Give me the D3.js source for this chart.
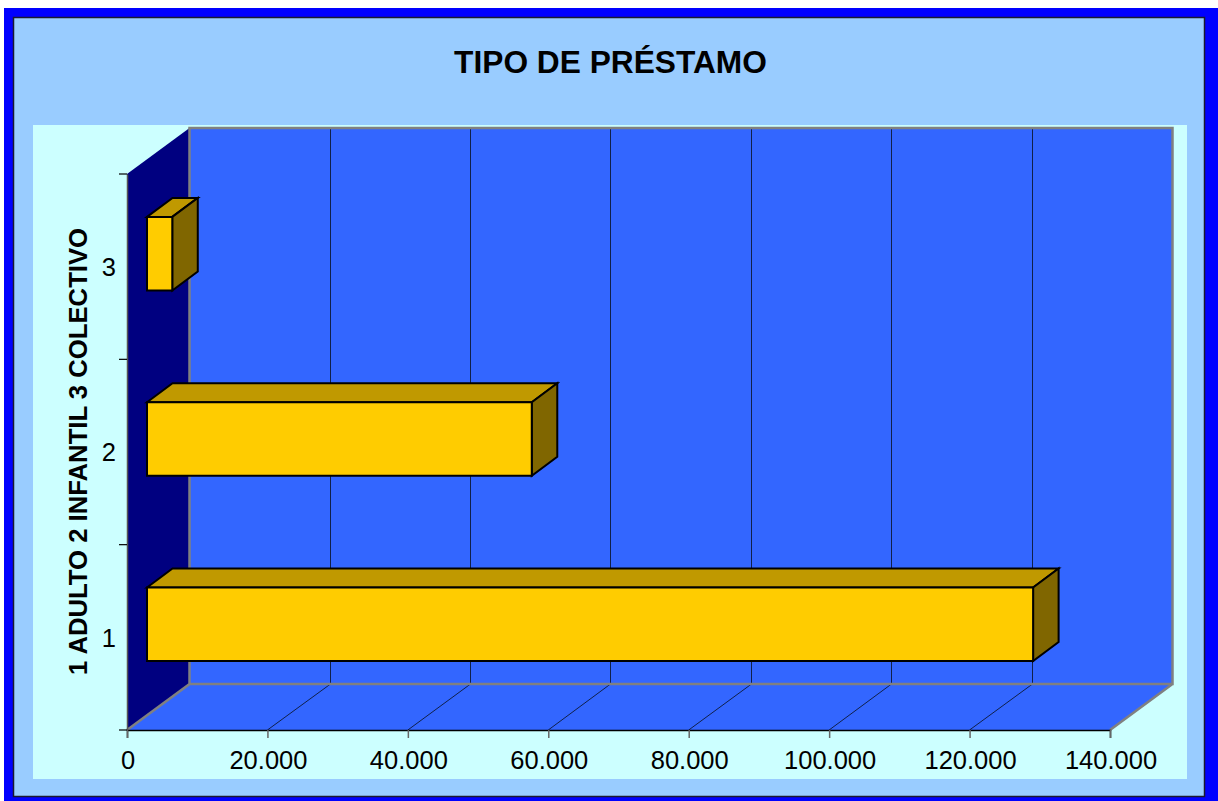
<!DOCTYPE html>
<html><head><meta charset="utf-8">
<script src="https://cdn.jsdelivr.net/npm/d3@7/dist/d3.min.js"></script>
<style>html,body{margin:0;padding:0;background:#fff;overflow:hidden}svg{display:block}text{font-family:"Liberation Sans",Arial,sans-serif;fill:#000}</style>
</head><body><div id="c"></div>
<script>
const titleText = "TIPO DE PRÉSTAMO";
const yTitleText = "1 ADULTO 2 INFANTIL 3 COLECTIVO";
const categories = ["1","2","3"];
const seriesValues = [126200, 54800, 3600];
const xTicks = [0,20000,40000,60000,80000,100000,120000,140000];

(function(){
const W=1218,H=801;
const svg=d3.select("#c").append("svg").attr("width",W).attr("height",H);
const fmt=d3.formatLocale({decimal:",",thousands:".",grouping:[3],currency:["",""]}).format(",");

// frame
svg.append("rect").attr("x",4).attr("y",8).attr("width",W-4).attr("height",H-8).attr("fill","#0000ff");
svg.append("rect").attr("x",13.5).attr("y",17.5).attr("width",1191).attr("height",779).attr("fill","#99ccff").attr("stroke","#1a1a2e").attr("stroke-width",1.5);
svg.append("rect").attr("x",33).attr("y",125).attr("width",1154).attr("height",654).attr("fill","#ccffff");

svg.append("text").attr("x",610.5).attr("y",73).attr("text-anchor","middle").attr("font-weight","bold").attr("font-size",31.7).text(titleText);

const x=d3.scaleLinear().domain([0,140000]).range([127,1110]);
const y=d3.scaleBand().domain(categories).range([730,174]);
const dx=62.5,dy=-46, yTop=174, yBot=730;
const poly=(pts,fill,stroke,sw)=>svg.append("polygon").attr("points",pts.map(p=>p.join(",")).join(" ")).attr("fill",fill).attr("stroke",stroke||"none").attr("stroke-width",sw||0).attr("stroke-linejoin","miter");

// walls
poly([[x(0),yBot],[x(0)+dx,yBot+dy],[x(140000)+dx,yBot+dy],[x(140000),yBot]],"#3366ff");
poly([[x(0)+dx,yTop+dy],[x(140000)+dx,yTop+dy],[x(140000)+dx,yBot+dy],[x(0)+dx,yBot+dy]],"#3366ff");
poly([[x(0),yTop],[x(0)+dx,yTop+dy],[x(0)+dx,yBot+dy],[x(0),yBot]],"#000080");

// grid
xTicks.slice(1,-1).forEach(t=>{
  const gx=Math.round(x(t)+dx-0.3)+0.5;
  svg.append("path").attr("d",`M${x(t)},${yBot}L${gx},${yBot+dy}V${yTop+dy}`).attr("fill","none").attr("stroke","#10204a").attr("stroke-width",1);
});
// wall edges
svg.append("path").attr("d",`M${x(0)},${yBot}L${x(0)+dx},${yBot+dy}V${yTop+dy}H${x(140000)+dx}V${yBot+dy}H${x(0)+dx}M${x(140000)+dx},${yBot+dy}L${x(140000)},${yBot}`).attr("fill","none").attr("stroke","#808080").attr("stroke-width",2.5);

// bars
const bx=20, by=-13, ox=25.5, oy=-19, bh=y.bandwidth()*0.397;
const w=d3.scaleLinear().domain([0,140000]).range([0,983]);
categories.forEach((c,i)=>{
  const x0=x(0)+bx, x1=x0+w(seriesValues[i]);
  const yc=y(c)+y.bandwidth()/2+by, y0=yc-bh/2, y1=yc+bh/2;
  poly([[x0,y0],[x0+ox,y0+oy],[x1+ox,y0+oy],[x1,y0]],"#c09900","#000",2);
  poly([[x1,y0],[x1+ox,y0+oy],[x1+ox,y1+oy],[x1,y1]],"#806600","#000",2);
  poly([[x0,y0],[x1,y0],[x1,y1],[x0,y1]],"#ffcc00","#000",2);
});

// axes
const ax=svg.append("g").attr("transform",`translate(0,${yBot})`).call(d3.axisBottom(x).tickValues(xTicks).tickFormat(fmt).tickSize(8).tickPadding(8));
ax.selectAll("text").attr("font-size",25.5).style("font-family",'"Liberation Sans",Arial,sans-serif').attr("fill","#000").attr("dy","0.92em").attr("dx",0.5);
ax.select(".domain").attr("stroke","#000").attr("stroke-width",1.5);
ax.selectAll("line").attr("stroke","#666").attr("stroke-width",1.5);

const yAxis=svg.append("g").attr("transform",`translate(${x(0)},0)`).call(d3.axisLeft(y).tickSize(0).tickPadding(11));
yAxis.selectAll("text").attr("font-size",25.5).style("font-family",'"Liberation Sans",Arial,sans-serif').attr("fill","#000").attr("dy","0.36em");
yAxis.select(".domain").attr("stroke","#555").attr("stroke-width",1.5);
const edges=[...categories.map(c=>y(c)+y.bandwidth()),y(categories[2])];
svg.selectAll(".ytick").data(edges).enter().append("line").attr("x1",119).attr("x2",127).attr("y1",d=>d).attr("y2",d=>d).attr("stroke","#000").attr("stroke-width",1.2);

svg.append("text").attr("transform","translate(87,451.5) rotate(-90)").attr("text-anchor","middle").attr("font-weight","bold").attr("font-size",25.7).text(yTitleText);
})();
</script></body></html>
